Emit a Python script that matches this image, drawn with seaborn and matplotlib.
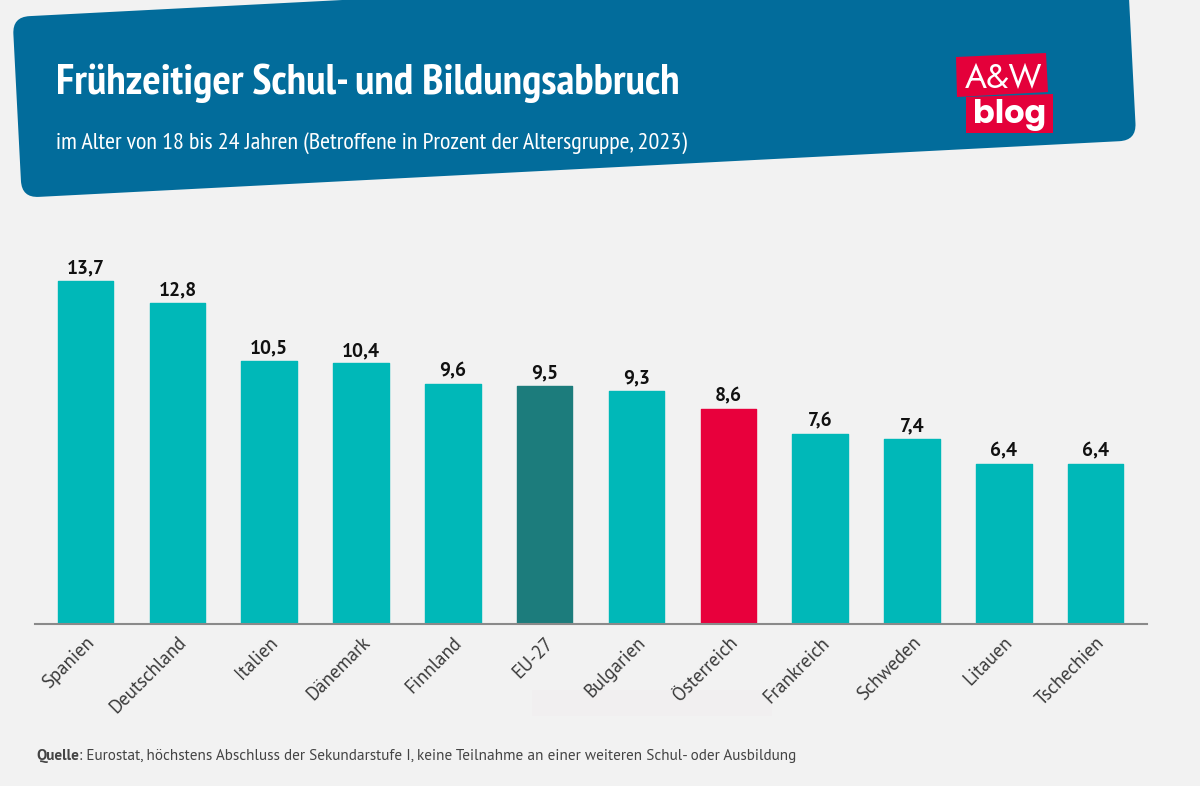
import matplotlib
matplotlib.use("Agg")
import matplotlib.pyplot as plt
import seaborn as sns
import pandas as pd
from matplotlib.patches import FancyBboxPatch, Polygon, Rectangle
from matplotlib.transforms import Affine2D

laender = ["Spanien", "Deutschland", "Italien", "Dänemark", "Finnland", "EU-27",
           "Bulgarien", "Österreich", "Frankreich", "Schweden", "Litauen", "Tschechien"]
werte = [13.7, 12.8, 10.5, 10.4, 9.6, 9.5, 9.3, 8.6, 7.6, 7.4, 6.4, 6.4]

TEAL = "#00b8b8"
DUNKEL = "#1c7c7c"
ROT = "#e8003c"
BLAU = "#026c9b"
BG = "#f2f2f2"
farben = [DUNKEL if l == "EU-27" else ROT if l == "Österreich" else TEAL for l in laender]

NARROW = ["PT Sans Narrow", "Lato", "DejaVu Sans"]
TEXT = ["PT Sans", "Lato", "DejaVu Sans"]
LOGO = ["Jost", "Lato", "DejaVu Sans"]
LOGO_BOLD = ["Poppins", "Lato", "DejaVu Sans"]

sns.set_theme(style="white")
plt.rcParams["font.family"] = TEXT

W, H = 1200, 786
fig = plt.figure(figsize=(W / 100, H / 100), dpi=100, facecolor=BG)

# Hintergrund-Ebene in Pixelkoordinaten
bg = fig.add_axes([0, 0, 1, 1], zorder=0)
bg.set_xlim(0, W)
bg.set_ylim(H, 0)
bg.axis("off")

# --- Banner ---
banner = FancyBboxPatch((0, 0), 1116, 181, boxstyle="round,pad=0,rounding_size=17",
                        facecolor=BLAU, edgecolor="none",
                        transform=Affine2D().rotate_deg(-2.95).translate(12.5, 17) + bg.transData)
bg.add_patch(banner)
bg.text(56, 94, "Frühzeitiger Schul- und Bildungsabbruch", color="white", fontsize=31.2,
        fontweight="bold", family=NARROW, va="baseline", ha="left")
bg.text(56, 149, "im Alter von 18 bis 24 Jahren (Betroffene in Prozent der Altersgruppe, 2023)",
        color="white", fontsize=17.4, family=NARROW, va="baseline", ha="left")

# --- Logo ---
bg.add_patch(Polygon([(956, 57), (1046, 53), (1048, 92), (957, 97)], facecolor="#e4003a", edgecolor="none"))
bg.add_patch(Polygon([(966, 97), (1053, 94), (1053, 133), (966, 133)], facecolor="#e4003a", edgecolor="none"))
bg.text(1004, 88, "A&W", color="white", fontsize=24, family=LOGO, ha="center", va="baseline")
bg.text(1010, 123, "blog", color="white", fontsize=23, family=LOGO_BOLD, fontweight="bold",
        ha="center", va="baseline")

# schwacher Fleck unter den Labels
bg.add_patch(Rectangle((532, 690), 240, 26, facecolor="#f1eff0", edgecolor="none"))

# --- Balken ---
ax = fig.add_axes([35 / W, 1 - 624 / H, 1112 / W, 394 / H], zorder=1)
ax.patch.set_alpha(0)
df = pd.DataFrame({"land": laender, "wert": werte})
sns.barplot(data=df, x="land", y="wert", hue="land", palette=farben, legend=False,
            width=0.605, saturation=1, ax=ax)
ax.set_xlim(-0.55, 11.56)
ax.set_ylim(0, 394 / 25.05)

for c in ax.containers:
    for p in c:
        p.set_edgecolor(p.get_facecolor())
        p.set_linewidth(1)
        p.set_joinstyle("round")
    ax.bar_label(c, labels=[f"{v:.1f}".replace(".", ",") for v in c.datavalues],
                 padding=2.5, fontsize=14, fontweight="bold", color="#111111")

sns.despine(ax=ax, left=True)
ax.spines["bottom"].set_color("#8a8a8a")
ax.spines["bottom"].set_linewidth(1.5)
ax.set_xlabel("")
ax.set_ylabel("")
ax.set_yticks([])
ax.set_xticks(range(len(laender)))
ax.set_xticklabels(laender, rotation=45, ha="right", rotation_mode="anchor",
                   fontsize=13.5, color="#3a3a3a")
ax.tick_params(axis="x", length=0, pad=7)

# --- Quelle ---
quelle = bg.text(36, 760, "Quelle", color="#444444", fontsize=11, fontweight="bold",
                 va="baseline", ha="left")
bg.annotate(": Eurostat, höchstens Abschluss der Sekundarstufe I, keine Teilnahme an einer weiteren Schul- oder Ausbildung",
            xy=(1, 0), xycoords=quelle, va="bottom", ha="left", color="#444444", fontsize=11)

fig.savefig("out.png", dpi=100, facecolor=BG)
